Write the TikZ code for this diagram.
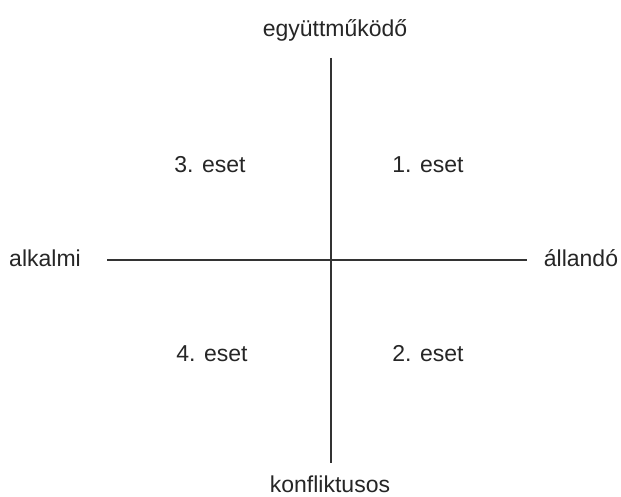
\documentclass[tikz,border=0pt]{standalone}
\usepackage{fontspec}
\setmainfont{Liberation Sans}
\begin{document}
\begin{tikzpicture}[x=1pt,y=-1pt,
  lbl/.style={font=\fontsize{23}{27}\selectfont, inner sep=0pt, anchor=base, text=black!85},
  axis/.style={line width=1.3pt, draw=black!80}]
\useasboundingbox[fill=white] (0,0) rectangle (621,497);
\coordinate (t) at (331,58);
\coordinate (b) at (331,463);
\coordinate (l) at (107,260);
\coordinate (r) at (527,260);
\draw[axis] (t) -- (b);
\draw[axis] (l) -- (r);
\node[lbl] (top) at (335,37) {együttműködő};
\node[lbl] (bot) at (330,492) {konfliktusos};
\node[lbl] (left) at (45,266) {alkalmi};
\node[lbl] (right) at (581,266) {állandó};
\node[lbl] (c3) at (210,173) {3. eset};
\node[lbl] (c1) at (428,173) {1. eset};
\node[lbl] (c4) at (212,361) {4. eset};
\node[lbl] (c2) at (428,361) {2. eset};
\end{tikzpicture}
\end{document}
